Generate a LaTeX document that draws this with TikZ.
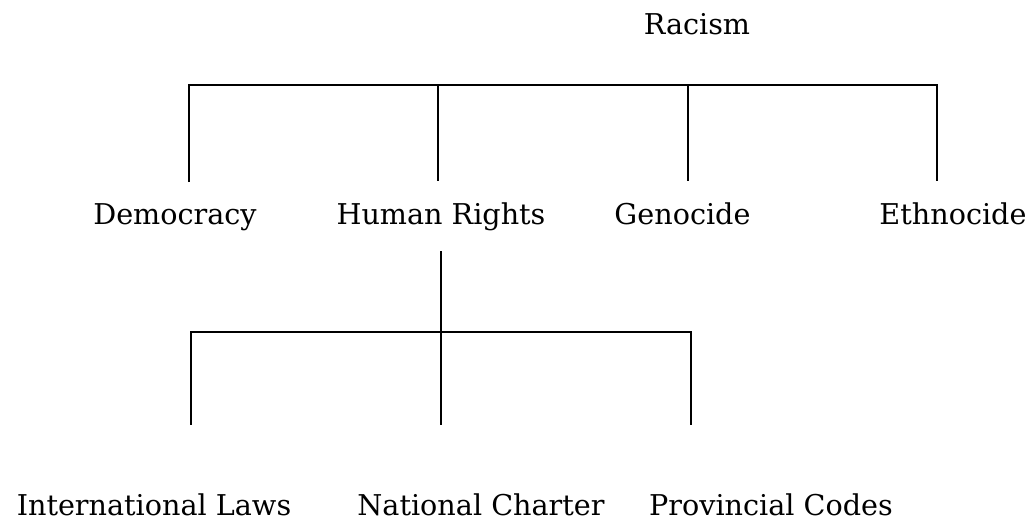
\documentclass[tikz,border=0pt]{standalone}
\usepackage{fontspec}
\setmainfont{DejaVu Serif}
\usepackage{tikz}

\begin{document}
\begin{tikzpicture}[line width=1.4pt,
		topic/.style={font=\fontsize{16.3}{20}\selectfont, inner sep=0pt, outer sep=12pt, anchor=base},
		leaf/.style={topic, outer sep=39pt}]
			\useasboundingbox (0,0) rectangle (20.6,-10.54);
			% top of the tree
			\node[topic] (racism) at (13.94,-0.7) {Racism};
			\node[topic] (dem) at (3.5,-4.48) {Democracy};
			\node[topic] (hr) at (8.82,-4.48) {Human Rights};
			\node[topic] (geno) at (13.65,-4.48) {Genocide};
			\node[topic] (ethno) at (19.06,-4.48) {Ethnocide};
			% leaves under human rights
			\node[leaf] (intl) at (3.08,-10.3) {International Laws};
			\node[leaf] (natl) at (9.62,-10.3) {National Charter};
			\node[leaf] (prov) at (15.42,-10.3) {Provincial Codes};
			% first bracket
			\coordinate (t1) at (3.78,-1.7);
			\coordinate (t2) at (8.76,-1.7);
			\coordinate (t3) at (13.76,-1.7);
			\coordinate (t4) at (18.74,-1.7);
			\draw (t1 |- dem.north) -- (t1) -- (t4) -- (t4 |- ethno.north);
			\draw (t2) -- (t2 |- hr.north);
			\draw (t3) -- (t3 |- geno.north);
			% second bracket
			\coordinate (s1) at (3.82,-6.64);
			\coordinate (s2) at (8.82,-6.64);
			\coordinate (s3) at (13.82,-6.64);
			\draw (hr.south) -- (s2);
			\draw (s1 |- intl.north) -- (s1) -- (s3) -- (s3 |- prov.north);
			\draw (s2) -- (s2 |- natl.north);
		\end{tikzpicture}
\end{document}
